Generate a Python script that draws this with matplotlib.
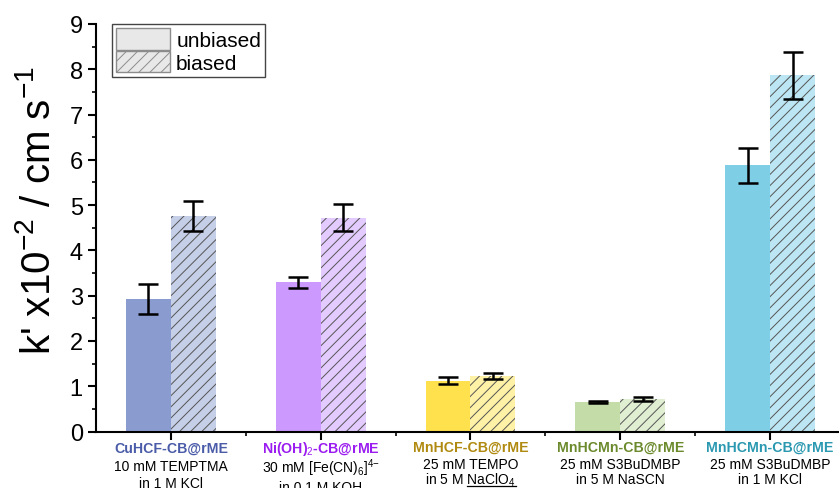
import numpy as np
import matplotlib
matplotlib.use("Agg")
import matplotlib.pyplot as plt
from matplotlib.patches import Patch
from matplotlib.ticker import MultipleLocator, FixedLocator
import matplotlib.transforms as mtransforms

plt.rcParams["font.family"] = "Liberation Sans"
plt.rcParams["mathtext.fontset"] = "custom"
plt.rcParams["mathtext.rm"] = "Liberation Sans"
plt.rcParams["mathtext.it"] = "Liberation Sans:italic"
plt.rcParams["mathtext.bf"] = "Liberation Sans:bold"
plt.rcParams["hatch.color"] = "#555555"
plt.rcParams["hatch.linewidth"] = 0.7

# electrode / electrolyte systems
names = ["CuHCF-CB@rME", "Ni(OH)$_2$-CB@rME", "MnHCF-CB@rME",
         "MnHCMn-CB@rME", "MnHCMn-CB@rME"]
redox = ["10 mM TEMPTMA", "30 mM [Fe(CN)$_6$]$^{4{-}}$", "25 mM TEMPO",
         "25 mM S3BuDMBP", "25 mM S3BuDMBP"]
electrolyte = ["in 1 M KCl", "in 0.1 M KOH", "in 5 M NaClO$_4$",
               "in 5 M NaSCN", "in 1 M KCl"]
name_colors = ["#4a5ba8", "#9b1cf0", "#b08a10", "#6b8a2c", "#2a98b0"]

unbiased = [2.93, 3.30, 1.12, 0.65, 5.88]
unbiased_err = [0.33, 0.12, 0.08, 0.02, 0.39]
biased = [4.75, 4.72, 1.22, 0.72, 7.87]
biased_err = [0.33, 0.30, 0.07, 0.05, 0.52]

fill_dark = ["#8a9bcf", "#cc99ff", "#ffe14d", "#c4dda8", "#7ecfe6"]
fill_light = ["#c6cfe8", "#e3cbff", "#fff2a6", "#e0eed2", "#bce6f3"]

fig = plt.figure(figsize=(8.39, 4.89), dpi=100)
ax = fig.add_axes([96 / 839, 1 - 432.5 / 489, (839 - 96) / 839, 407.5 / 489])

x = np.arange(len(names))
w = 0.3
ax.bar(x - w / 2, unbiased, w, color=fill_dark, linewidth=0, zorder=2)
ax.bar(x + w / 2, biased, w, color=fill_light, hatch="///", linewidth=0, zorder=2)
ax.errorbar(x - w / 2, unbiased, yerr=unbiased_err, fmt="none", ecolor="black",
            elinewidth=1.8, capsize=7.5, capthick=1.8, zorder=3)
ax.errorbar(x + w / 2, biased, yerr=biased_err, fmt="none", ecolor="black",
            elinewidth=1.8, capsize=7.5, capthick=1.8, zorder=3)

ax.set_xlim(-0.5, 4.46)
ax.set_ylim(0, 9)
ax.spines["top"].set_visible(False)
ax.spines["right"].set_visible(False)
for s in ("left", "bottom"):
    ax.spines[s].set_linewidth(1.5)

ax.yaxis.set_major_locator(MultipleLocator(1))
ax.yaxis.set_minor_locator(MultipleLocator(0.5))
ax.set_xticks(x)
ax.set_xticklabels([])
ax.xaxis.set_minor_locator(FixedLocator(x[:-1] + 0.5))
ax.tick_params(axis="both", which="major", direction="out", length=6, width=1.5,
               labelsize=17)
ax.tick_params(axis="both", which="minor", direction="out", length=3, width=1.2)
ax.set_ylabel("k' x10$^{{-}2}$ / cm s$^{{-}1}$", fontsize=29, labelpad=8)
ax.yaxis.label.set_y(0.545)

# three-line category labels under each pair of bars (offsets in points below the axis)
line_offsets = [(12, 25, 37), (12, 26, 40), (11, 23.5, 34.5),
                (11, 23.5, 34.5), (11, 23.5, 34.5)]
line3 = []
for i in range(len(names)):
    d1, d2, d3 = line_offsets[i]
    base = mtransforms.blended_transform_factory(ax.transData, ax.transAxes)
    t1 = base + mtransforms.ScaledTranslation(0, -d1 / 72, fig.dpi_scale_trans)
    t2 = base + mtransforms.ScaledTranslation(0, -d2 / 72, fig.dpi_scale_trans)
    t3 = base + mtransforms.ScaledTranslation(0, -d3 / 72, fig.dpi_scale_trans)
    ax.text(x[i], 0, names[i], transform=t1, ha="center", va="center",
            fontsize=10.2, fontweight="bold", color=name_colors[i])
    ax.text(x[i], 0, redox[i], transform=t2, ha="center", va="center",
            fontsize=10)
    line3.append(ax.text(x[i], 0, electrolyte[i], transform=t3,
                         ha="center", va="center", fontsize=10))

# underline the NaClO4 salt
fig.canvas.draw()
r = fig.canvas.get_renderer()
full = line3[2].get_window_extent(r)
probe = fig.text(0, 0, "NaClO$_4$", fontsize=10)
nw = probe.get_window_extent(r).width
probe.remove()
uy = max(full.y0 + 2, 2.5)
fig.add_artist(plt.Line2D([full.x1 - nw, full.x1], [uy, uy],
                          transform=None, color="black", linewidth=0.9))

handles = [Patch(facecolor="#e8e8e8", edgecolor="#8c8c8c", linewidth=1.0),
           Patch(facecolor="#e8e8e8", edgecolor="#8c8c8c", linewidth=1.0, hatch="///")]
leg = ax.legend(handles, ["unbiased", "biased"], loc="upper left",
                bbox_to_anchor=(0.021, 1.0), borderaxespad=0, fontsize=15,
                handlelength=2.6, handleheight=1.2, handletextpad=0.3,
                labelspacing=0.05, borderpad=0.2, fancybox=False, framealpha=1)
leg.get_frame().set_edgecolor("#444444")
leg.get_frame().set_linewidth(1.0)

fig.savefig("out.png", dpi=100)
